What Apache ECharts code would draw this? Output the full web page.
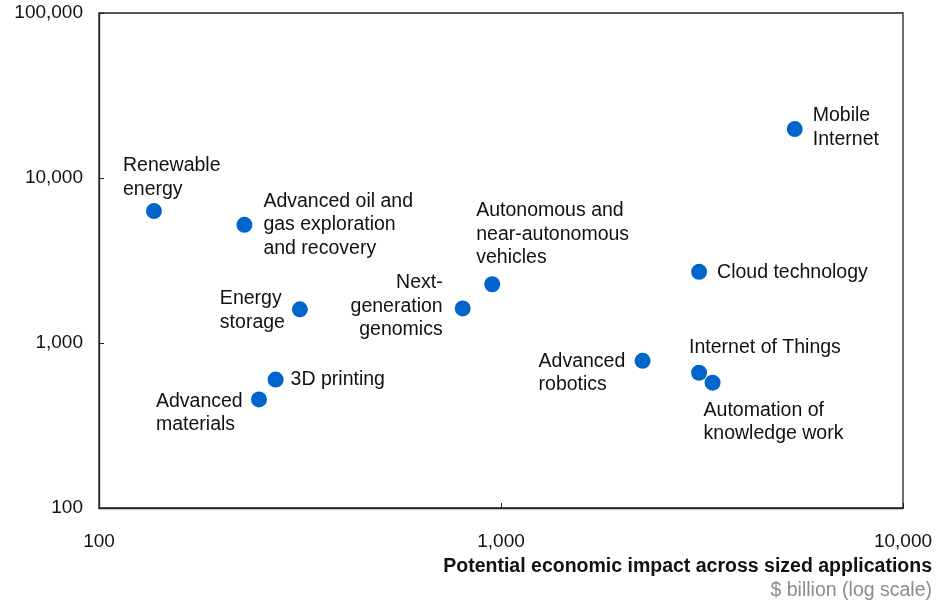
<!DOCTYPE html>
<html>
<head>
<meta charset="utf-8">
<script src="https://cdn.jsdelivr.net/npm/echarts@6/dist/echarts.min.js"></script>
<style>
html,body{margin:0;padding:0;background:#fff;}
#chart{width:939px;height:602px;}
</style>
</head>
<body>
<div id="chart"></div>
<script>
// ---- data ----
const technologies = [
  "Renewable\nenergy",
  "Advanced oil and\ngas exploration\nand recovery",
  "Energy\nstorage",
  "3D printing",
  "Advanced\nmaterials",
  "Next-\ngeneration\ngenomics",
  "Autonomous and\nnear-autonomous\nvehicles",
  "Advanced\nrobotics",
  "Cloud technology",
  "Mobile\nInternet",
  "Internet of Things",
  "Automation of\nknowledge work"
];
const economicImpact = [137, 230, 316, 275, 250, 803, 951, 2250, 3110, 5380, 3110, 3360];
const yValues = [6300, 5200, 1600, 600, 455, 1620, 2270, 780, 2700, 19800, 660, 575];
const xTicks = [100, 1000, 10000];
const yTicks = [100, 1000, 10000, 100000];

// ---- label placement (style only) ----
const labelStyle = [
  {align:'left',  va:'top',    dx:-31, dy:-57},
  {align:'left',  va:'top',    dx:19,  dy:-35},
  {align:'left',  va:'top',    dx:-80, dy:-22},
  {align:'left',  va:'middle', dx:15,  dy:0},
  {align:'left',  va:'top',    dx:-103,dy:-10},
  {align:'right', va:'middle', dx:-20, dy:-2},
  {align:'left',  va:'top',    dx:-16, dy:-85},
  {align:'left',  va:'top',    dx:-104,dy:-11},
  {align:'left',  va:'middle', dx:18,  dy:1},
  {align:'left',  va:'top',    dx:18,  dy:-25},
  {align:'left',  va:'middle', dx:-10, dy:-25},
  {align:'left',  va:'top',    dx:-9,  dy:16}
];

const FONT = '"Liberation Sans", Arial, sans-serif';
const FS = 19.5;
const AXFS = 19;
const fmt = v => Number(v).toLocaleString('en-US');

const points = technologies.map((name, i) => ({
  name: name,
  value: [economicImpact[i], yValues[i]],
  label: {
    show: true,
    position: 'inside',
    align: labelStyle[i].align,
    verticalAlign: labelStyle[i].va,
    offset: [labelStyle[i].dx, labelStyle[i].dy],
    formatter: name,
    color: '#111',
    fontSize: FS,
    lineHeight: 23.5,
    fontFamily: FONT
  }
}));

const chart = echarts.init(document.getElementById('chart'), null, {renderer: 'canvas'});
chart.setOption({
  animation: false,
  backgroundColor: '#fff',
  grid: {
    left: 99, right: 36, top: 13, bottom: 94,
    show: true, borderColor: '#222', borderWidth: 1.3, backgroundColor: 'transparent'
  },
  xAxis: {
    type: 'log', logBase: 10, min: xTicks[0], max: xTicks[xTicks.length - 1],
    axisLine: {show: true, lineStyle: {color: '#222', width: 1.3}},
    axisTick: {show: true, inside: true, length: 5, lineStyle: {color: '#222'}},
    minorTick: {show: false},
    splitLine: {show: false},
    axisLabel: {
      margin: 24, fontSize: AXFS, color: '#111', fontFamily: FONT,
      formatter: fmt
    }
  },
  yAxis: {
    type: 'log', logBase: 10, min: yTicks[0], max: yTicks[yTicks.length - 1],
    axisLine: {show: true, lineStyle: {color: '#222', width: 1.3}},
    axisTick: {show: true, inside: true, length: 5, lineStyle: {color: '#222'}},
    splitLine: {show: false},
    axisLabel: {
      margin: 16, fontSize: AXFS, color: '#111', fontFamily: FONT,
      formatter: fmt
    }
  },
  graphic: [
    {
      type: 'text', right: 7, top: 557,
      style: {
        text: 'Potential economic impact across sized applications',
        font: 'bold ' + FS + 'px ' + FONT, fill: '#111', textAlign: 'right'
      }
    },
    {
      type: 'text', right: 7, top: 581,
      style: {
        text: '$ billion (log scale)',
        font: FS + 'px ' + FONT, fill: '#8c8c8c', textAlign: 'right'
      }
    }
  ],
  series: [{
    type: 'scatter',
    symbol: 'circle',
    symbolSize: 16,
    itemStyle: {color: '#0066CC', opacity: 1},
    emphasis: {disabled: true},
    data: points
  }]
});
</script>
</body>
</html>
